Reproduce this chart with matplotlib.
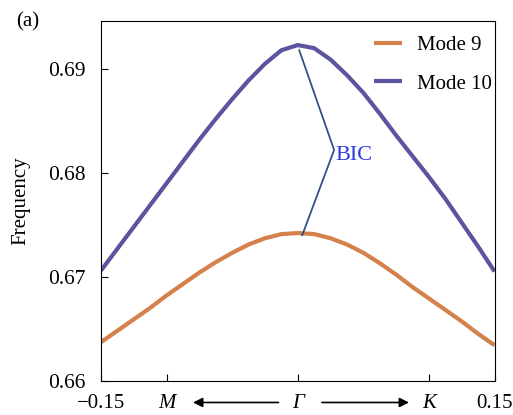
import matplotlib
matplotlib.use("Agg")
import matplotlib.pyplot as plt
import numpy as np

plt.rcParams['font.family'] = ['Liberation Serif', 'DejaVu Serif']

# wave vector samples
k10 = [-0.15, -0.1375, -0.125, -0.1125, -0.10, -0.0875, -0.075, -0.0625, -0.05,
       -0.0375, -0.025, -0.0125, 0.0, 0.0125, 0.025, 0.0375, 0.05, 0.0625,
       0.075, 0.0875, 0.10, 0.1125, 0.125, 0.1375, 0.15]
mode10 = [0.6706, 0.6727, 0.6748, 0.6769, 0.6790, 0.6811, 0.6832, 0.6852, 0.6871,
          0.6889, 0.6905, 0.6918, 0.6923, 0.6920, 0.6909, 0.6894, 0.6877, 0.6857,
          0.6836, 0.6816, 0.6796, 0.6775, 0.6752, 0.6729, 0.6705]

k9 = [-0.15, -0.1375, -0.125, -0.1125, -0.10, -0.0875, -0.075, -0.0625, -0.05,
      -0.0375, -0.025, -0.0125, 0.0, 0.0125, 0.025, 0.0375, 0.05, 0.0625,
      0.075, 0.0875, 0.10, 0.1125, 0.125, 0.1375, 0.15]
mode9 = [0.6637, 0.6648, 0.6659, 0.6670, 0.6682, 0.6693, 0.6704, 0.6714, 0.6723,
         0.6731, 0.6737, 0.6741, 0.6742, 0.6741, 0.6737, 0.6731, 0.6723, 0.6713,
         0.6702, 0.6690, 0.6679, 0.6668, 0.6657, 0.6645, 0.6634]

# BIC pointer lines: from the kink to the two curve tops
bic_x = [0.0011, 0.0277, 0.0034]
bic_y = [0.6918, 0.6822, 0.6740]

xticks = [-0.15, -0.1, 0, 0.1, 0.15]
xticklabels = ['\u22120.15', 'M', '\u0393', 'K', '0.15']
yticks = [0.66, 0.67, 0.68, 0.69]

c9 = '#d4814b'
c10 = '#5a559e'

fig = plt.figure(figsize=(5.13, 4.15), dpi=100)
ax = fig.add_axes([0.197, 0.083, 0.767, 0.866])

ax.plot(k9, mode9, color=c9, lw=3, label='Mode 9', solid_capstyle='butt',
        solid_joinstyle='round')
ax.plot(k10, mode10, color=c10, lw=3, label='Mode 10', solid_capstyle='butt',
        solid_joinstyle='round')
ax.plot(bic_x, bic_y, color='#34508a', lw=1.3)
ax.text(0.029, 0.6817, 'BIC', color='#2a3ae0', fontsize=16, va='center', ha='left')

ax.set_xlim(-0.15, 0.15)
ax.set_ylim(0.66, 0.6946)
ax.set_xticks(xticks)
ax.set_xticklabels(xticklabels)
ax.set_yticks(yticks)
ax.tick_params(direction='in', length=5, labelsize=15.5)
ax.tick_params(axis='y', pad=11)
ax.tick_params(axis='x', pad=10, labelsize=15)
for lab in ax.get_xticklabels()[1:4]:
    lab.set_fontstyle('italic')
ax.set_ylabel('Frequency', fontsize=15)
ax.yaxis.set_label_coords(-0.18, 0.5)

# arrows between high-symmetry points
arr = dict(arrowstyle='-|>', color='black', lw=1.2, mutation_scale=14)
ax.annotate('', xy=(-0.082, -0.061), xytext=(-0.0126, -0.061),
            xycoords=('data', 'axes fraction'), textcoords=('data', 'axes fraction'),
            arrowprops=arr, annotation_clip=False)
ax.annotate('', xy=(0.0869, -0.061), xytext=(0.0163, -0.061),
            xycoords=('data', 'axes fraction'), textcoords=('data', 'axes fraction'),
            arrowprops=arr, annotation_clip=False)

ax.legend(loc='upper right', frameon=False, fontsize=15, handlelength=1.35,
          handletextpad=0.7, labelspacing=0.9, bbox_to_anchor=(1.04, 1.012))

fig.text(0.031, 0.947, '(a)', fontsize=15, va='center')

fig.savefig('out.png', dpi=100)
